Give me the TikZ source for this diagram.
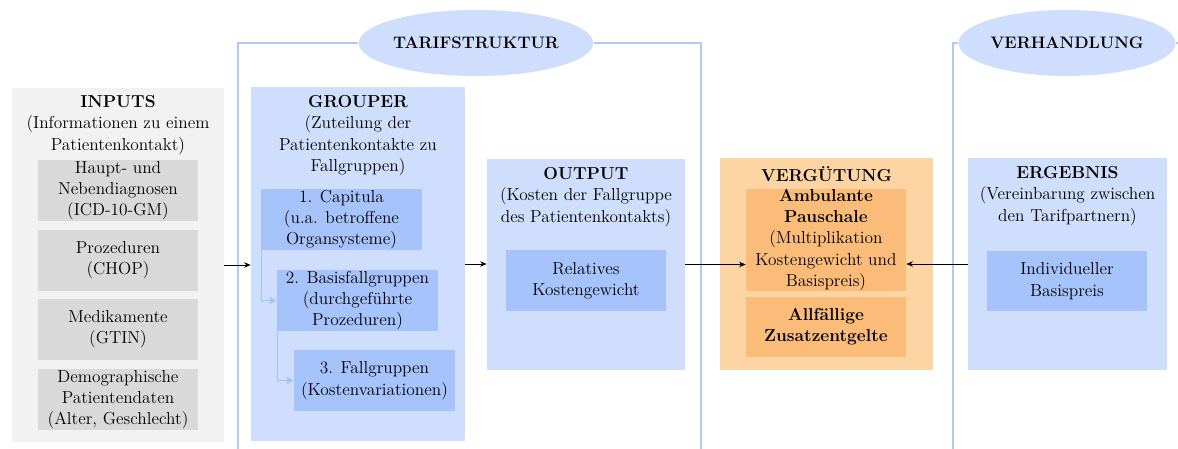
\documentclass[tikz,border=0pt]{standalone}
\usetikzlibrary{shapes.geometric,arrows.meta}
\definecolor{lblue}{HTML}{CFDEFC}
\definecolor{dblue}{HTML}{A6C3FB}
\definecolor{bline}{HTML}{B4C8F2}
\definecolor{lorange}{HTML}{FDD4A4}
\definecolor{dorange}{HTML}{FBBC7A}
\definecolor{lgray}{HTML}{F2F2F2}
\definecolor{dgray}{HTML}{D9D9D9}
\begin{document}
\begin{tikzpicture}[x=0.75pt,y=-0.75pt,
  every node/.style={font=\fontsize{13}{16}\selectfont, align=center, inner sep=0pt},
  box/.style={rectangle, draw=none},
  inbox/.style={box, minimum width=120pt, minimum height=45.75pt},
  head/.style={anchor=north},
  conn/.style={draw=black, line width=0.6pt, -{Stealth[length=5pt,width=4pt]}},
  sub/.style={draw=dblue, line width=0.8pt, -{Triangle[length=5pt,width=5pt]}},
  brack/.style={draw=bline, line width=0.8pt},
  oval/.style={ellipse, fill=lblue, draw=none, font=\fontsize{12.5}{15}\selectfont\bfseries}]
\useasboundingbox (0,0) rectangle (1178,449);
\fill[white] (0,0) rectangle (1178,449);

% brackets and ellipses
\node[oval, minimum width=171pt, minimum height=49.5pt] (tarif) at (476,43) {TARIFSTRUKTUR};
\node[oval, minimum width=158.25pt, minimum height=49.5pt] (verh) at (1067,43) {VERHANDLUNG};
\coordinate (tl) at (238,43);
\coordinate (tlb) at (238,449);
\coordinate (tr) at (701,43);
\coordinate (trb) at (701,449);
\coordinate (vl) at (953,43);
\coordinate (vlb) at (953,449);
\coordinate (vr) at (1178,43);
\draw[brack] (tlb) -- (tl) -- (tarif.west);
\draw[brack] (tarif.east) -- (tr) -- (trb);
\draw[brack] (vlb) -- (vl) -- (verh.west);
\draw[brack] (verh.east) -- (vr);

% INPUTS
\node[box, fill=lgray, minimum width=159pt, minimum height=265.5pt] (inputs) at (118,265) {};
\node[head] (inputsT) at (118,95) {\textbf{INPUTS}\\(Informationen zu einem\\Patientenkontakt)};
\node[inbox, fill=dgray] (in1) at (118,190.5) {Haupt- und\\Nebendiagnosen\\(ICD-10-GM)};
\node[inbox, fill=dgray] (in2) at (118,260) {Prozeduren\\(CHOP)};
\node[inbox, fill=dgray] (in3) at (118,329) {Medikamente\\(GTIN)};
\node[inbox, fill=dgray] (in4) at (118,399.5) {Demographische\\Patientendaten\\(Alter, Geschlecht)};

% GROUPER
\node[box, fill=lblue, minimum width=160.5pt, minimum height=265.5pt] (grouper) at (358,264) {};
\node[head] (grouperT) at (358,95) {\textbf{GROUPER}\\(Zuteilung der\\Patientenkontakte zu\\Fallgruppen)};
\node[inbox, fill=dblue, minimum width=120.75pt] (cap) at (341.5,219.5) {1. Capitula\\(u.a. betroffene\\Organsysteme)};
\node[inbox, fill=dblue, minimum width=120.75pt] (basis) at (357.5,300.5) {2. Basisfallgruppen\\(durchgef\"uhrte\\Prozeduren)};
\node[inbox, fill=dblue, minimum width=120.75pt] (fall) at (374.5,380.5) {3. Fallgruppen\\(Kostenvariationen)};
\draw[sub] ([xshift=0.75pt]cap.south west) |- (basis.west);
\draw[sub] ([xshift=0.75pt]basis.south west) |- (fall.west);

% OUTPUT
\node[box, fill=lblue, minimum width=148.5pt, minimum height=158.25pt] (output) at (586,264.5) {};
\node[head] (outputT) at (586,167) {\textbf{OUTPUT}\\(Kosten der Fallgruppe\\des Patientenkontakts)};
\node[inbox, fill=dblue] (rel) at (586,280.5) {Relatives\\Kostengewicht};

% VERGUETUNG
\node[box, fill=lorange, minimum width=159.75pt, minimum height=159pt] (verg) at (826.5,264) {};
\node[head] (vergT) at (826.5,166) {\textbf{VERG\"UTUNG}};
\node[inbox, fill=dorange, minimum height=76.5pt] (amb) at (826,240) {\textbf{Ambulante}\\\textbf{Pauschale}\\(Multiplikation\\Kostengewicht und\\Basispreis)};
\node[inbox, fill=dorange, minimum height=45pt] (allf) at (826,327) {\textbf{Allf\"allige}\\\textbf{Zusatzentgelte}};

% ERGEBNIS
\node[box, fill=lblue, minimum width=149.25pt, minimum height=159pt] (erg) at (1067.5,264) {};
\node[head] (ergT) at (1067.5,166) {\textbf{ERGEBNIS}\\(Vereinbarung zwischen\\den Tarifpartnern)};
\node[inbox, fill=dblue, minimum height=45pt] (ind) at (1067,281) {Individueller\\Basispreis};

% connectors
\draw[conn] (inputs.east) -- (inputs.east -| grouper.west);
\draw[conn] (grouper.east) -- (grouper.east -| output.west);
\draw[conn] (output.east) -- (output.east -| amb.west);
\draw[conn] (erg.west) -- (erg.west -| amb.east);
\end{tikzpicture}
\end{document}
